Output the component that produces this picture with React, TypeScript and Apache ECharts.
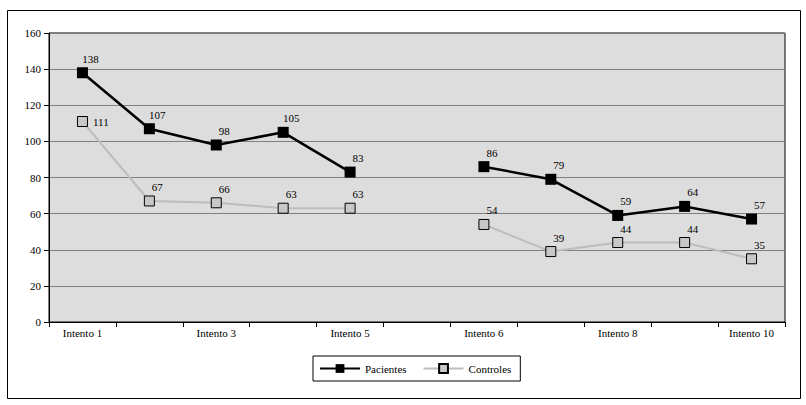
import React, { useEffect, useRef } from "react";
import * as echarts from "echarts";

const categories = [
  "Intento 1", "Intento 2", "Intento 3", "Intento 4", "Intento 5", "",
  "Intento 6", "Intento 7", "Intento 8", "Intento 9", "Intento 10",
];
const pacientes: (number | null)[] = [138, 107, 98, 105, 83, null, 86, 79, 59, 64, 57];
const controles: (number | null)[] = [111, 67, 66, 63, 63, null, 54, 39, 44, 44, 35];
const seriesNames = ["Pacientes", "Controles"];

const FONT = "Times New Roman, serif";

export default function App() {
  const ref = useRef<HTMLDivElement>(null);
  useEffect(() => {
    if (!ref.current) return;
    const chart = echarts.init(ref.current, undefined, { renderer: "svg" });
    const labelStyle = {
      show: true,
      position: "top" as const,
      distance: 3,
      offset: [8, 0],
      fontFamily: FONT,
      fontSize: 11,
      color: "#000",
    };
    chart.setOption({
      animation: false,
      backgroundColor: "#fff",
      textStyle: { fontFamily: FONT },
      graphic: [
        {
          type: "rect",
          shape: { x: 7.5, y: 10.5, width: 793, height: 388 },
          style: { fill: "none", stroke: "#000", lineWidth: 1 },
          silent: true,
        },
      ],
      grid: {
        left: 49,
        right: 21,
        top: 33,
        bottom: 83,
        show: true,
        backgroundColor: "#dddddd",
        borderColor: "#000",
        borderWidth: 1,
      },
      legend: {
        data: seriesNames,
        left: 313,
        top: 356,
        orient: "horizontal",
        itemWidth: 40,
        itemHeight: 11,
        itemGap: 16,
        padding: [7, 9, 7, 6],
        borderColor: "#000",
        borderWidth: 1,
        textStyle: { fontFamily: FONT, fontSize: 11, color: "#000" },
      },
      xAxis: {
        type: "category",
        data: categories,
        boundaryGap: true,
        axisLine: { show: true, lineStyle: { color: "#000", width: 1 } },
        axisTick: { show: true, interval: 0, length: 5, inside: false, lineStyle: { color: "#000" } },
        axisLabel: { interval: 1, fontFamily: FONT, fontSize: 11, color: "#000", margin: 5 },
        splitLine: { show: false },
      },
      yAxis: {
        type: "value",
        min: 0,
        max: 160,
        interval: 20,
        axisLine: { show: true, lineStyle: { color: "#000", width: 1 } },
        axisTick: { show: true, length: 5, inside: false, lineStyle: { color: "#000" } },
        axisLabel: { fontFamily: FONT, fontSize: 11, color: "#000", margin: 8 },
        splitLine: { show: true, lineStyle: { color: "#808080", width: 1 } },
      },
      series: [
        {
          name: seriesNames[0],
          type: "line",
          data: pacientes,
          connectNulls: false,
          symbol: "rect",
          symbolSize: 11,
          itemStyle: { color: "#000", borderColor: "#000", borderWidth: 0 },
          lineStyle: { color: "#000", width: 2.5 },
          label: labelStyle,
          z: 3,
        },
        {
          name: seriesNames[1],
          type: "line",
          data: controles.map((v, i) =>
            i === 0
              ? { value: v, label: { position: "right", distance: 5, offset: [0, 0] } }
              : v
          ),
          connectNulls: false,
          symbol: "rect",
          symbolSize: 10,
          itemStyle: { color: "#c8c8c8", borderColor: "#000", borderWidth: 1 },
          lineStyle: { color: "#bdbdbd", width: 2 },
          label: labelStyle,
          z: 2,
        },
      ],
    });
    return () => chart.dispose();
  }, []);
  return (
    <div
      ref={ref}
      style={{ position: "fixed", left: 0, top: 0, width: 806, height: 405 }}
    />
  );
}
